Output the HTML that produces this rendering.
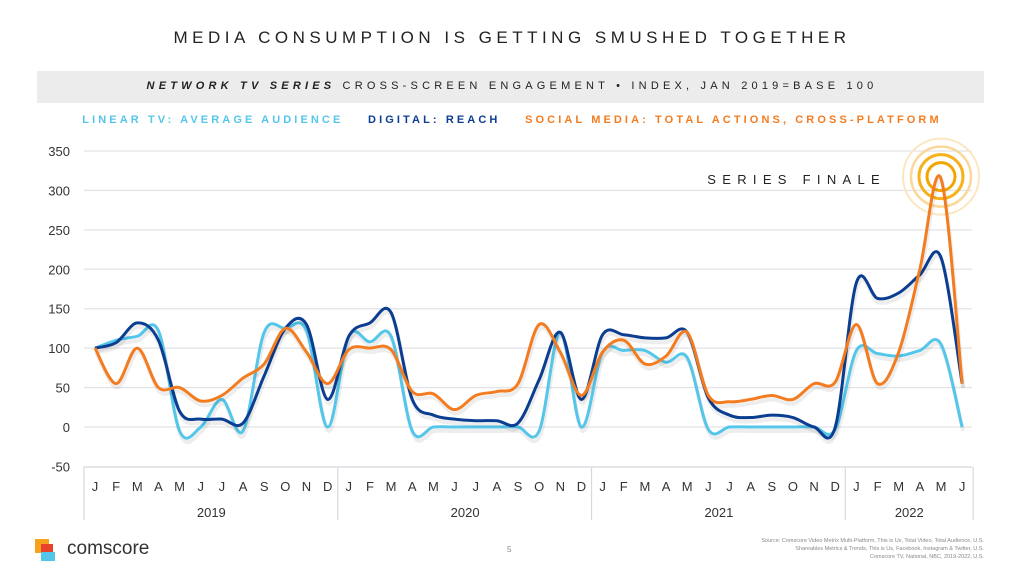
<!DOCTYPE html>
<html><head><meta charset="utf-8"><style>
body{margin:0;width:1024px;height:576px;background:#fff;font-family:"Liberation Sans",sans-serif;overflow:hidden;position:relative}
.t{position:absolute;white-space:nowrap}
</style></head><body>
<div class="t" style="left:0;width:1024px;top:28px;text-align:center;font-size:17px;letter-spacing:4.5px;color:#222">MEDIA CONSUMPTION IS GETTING SMUSHED TOGETHER</div>
<div style="position:absolute;left:37px;top:71px;width:947px;height:32px;background:#ececec"></div>
<div class="t" style="left:0;width:1024px;top:80px;text-align:center;font-size:11px;letter-spacing:4.2px;color:#222"><b><i>NETWORK TV SERIES</i></b> CROSS-SCREEN ENGAGEMENT • INDEX, JAN 2019=BASE 100</div>
<div class="t" style="left:0;width:1024px;top:114px;text-align:center;font-size:11px;font-weight:bold;letter-spacing:3.1px">
<span style="color:#54c6ea">LINEAR TV: AVERAGE AUDIENCE</span>&nbsp;&nbsp;&nbsp;
<span style="color:#0b3d91">DIGITAL: REACH</span>&nbsp;&nbsp;&nbsp;
<span style="color:#f47c20">SOCIAL MEDIA: TOTAL ACTIONS, CROSS-PLATFORM</span></div>
<svg id="ch" width="1024" height="576" style="position:absolute;left:0;top:0"></svg>
<div style="position:absolute;left:35px;top:539px;width:14px;height:14px;background:#f7a21b"></div>
<div style="position:absolute;left:41px;top:544px;width:12px;height:10px;background:#e8412c"></div>
<div style="position:absolute;left:41px;top:552px;width:14px;height:9px;background:#54c6ea"></div>
<div class="t" style="left:67px;top:538px;font-size:19px;color:#333">comscore</div>
<div class="t" style="left:507px;top:545px;font-size:8px;color:#888">5</div>
<div class="t" style="right:40px;top:537px;font-size:5.5px;line-height:8px;color:#888;text-align:right">Source: Comscore Video Metrix Multi-Platform, This is Us, Total Video, Total Audience, U.S.<br>Shareables Metrics &amp; Trends, This is Us, Facebook, Instagram &amp; Twitter, U.S.<br>Comscore TV, National, NBC, 2019-2022, U.S.</div>
<script>
const yTicks=[350,300,250,200,150,100,50,0,-50];
const months=["J","F","M","A","M","J","J","A","S","O","N","D"];
const years=["2019","2020","2021","2022"];
const linear=[100,110,115,122,-5,0,35,-5,120,125,122,0, 115,108,115,-5,0,0,0,0,0,-5,120,0, 95,97,97,82,88,-3,0,0,0,0,0,-3, 97,93,90,97,105,0];
const digital=[100,107,132,110,20,10,10,5,65,125,130,35, 115,132,145,35,15,10,8,8,5,60,120,35, 117,117,113,113,120,37,15,12,15,12,0,0, 183,163,170,193,215,55];
const social=[100,55,100,50,50,33,40,62,80,125,95,55, 98,100,98,45,42,22,40,45,55,130,95,40, 95,110,80,90,120,40,32,35,40,35,55,57, 130,55,95,200,315,55];
const NS="http://www.w3.org/2000/svg";
const svg=document.getElementById('ch');
const X0=95,DX=21.15,plotL=84,plotR=972;
const x=i=>X0+i*DX;
const y=v=>427-v*(276/350);
function mk(t,a){const e=document.createElementNS(NS,t);for(const k in a)e.setAttribute(k,a[k]);svg.appendChild(e);return e;}
yTicks.forEach(v=>{
 if(v>-50){const g=mk('line',{x1:plotL,x2:plotR,y1:y(v),y2:y(v),stroke:'#e3e3e8','stroke-width':1.3});
 
 }
 const t=mk('text',{x:70,y:y(v)+5,'text-anchor':'end','font-size':13,fill:'#333','font-family':'Liberation Sans'});
 t.textContent=v;
 
 
});
const ax=mk('line',{x1:plotL,x2:plotR,y1:467,y2:467,stroke:'#d8d8de','stroke-width':1.3});


const N=linear.length;
for(let i=0;i<N;i++){
 const t=mk('text',{x:x(i),y:491,'text-anchor':'middle','font-size':13,fill:'#333','font-family':'Liberation Sans'});
 t.textContent=months[i%12];
 
 
}
years.forEach((yr,k)=>{
 const s=k*12,e=Math.min(s+11,N-1);
 const lx=x(s)-DX/2-0.5,rx=x(e)+DX/2+0.5;
 const l=mk('line',{x1:lx,x2:lx,y1:467,y2:520,stroke:'#d8d8de','stroke-width':1.2});
 
 
 if(k==years.length-1){const r=mk('line',{x1:rx,x2:rx,y1:467,y2:520,stroke:'#d8d8de','stroke-width':1.2});
 
 }
 const t=mk('text',{x:(lx+rx)/2,y:517,'text-anchor':'middle','font-size':13,fill:'#333','font-family':'Liberation Sans'});
 t.textContent=yr;
 
 
});
const pi=social.indexOf(Math.max(...social));
const cx=x(pi),cy=y(social[pi])-2;
[[38,'#fbe6c0',2],[30,'#f9d89a',2.5],[22,'#f5b21a',3],[14,'#f0a500',3]].forEach(([r,c,w])=>{
 const ci=mk('circle',{cx:cx,cy:cy,r:r,fill:'none',stroke:c,'stroke-width':w});
 
 
});
const ft=mk('text',{x:886,y:184,'text-anchor':'end','font-size':13,fill:'#222','letter-spacing':'6.3','font-family':'Liberation Sans'});
ft.textContent='SERIES FINALE';


function path(d){
 const p=d.map((v,i)=>[x(i),y(v)]);
 let s=`M${p[0][0]},${p[0][1]}`;
 const k=1/6;
 for(let i=0;i<p.length-1;i++){
  const a=p[Math.max(0,i-1)],b=p[i],c=p[i+1],e=p[Math.min(p.length-1,i+2)];
  s+=` C${b[0]+(c[0]-a[0])*k},${b[1]+(c[1]-a[1])*k} ${c[0]-(e[0]-b[0])*k},${c[1]-(e[1]-b[1])*k} ${c[0]},${c[1]}`;
 }
 return s;
}
[[linear,'#54c6ea','series-linear-tv'],[digital,'#0b3d91','series-digital'],[social,'#f47c20','series-social']].forEach(([d,c,n])=>{
 const sh=mk('path',{d:path(d),fill:'none',stroke:'rgba(0,0,0,0.07)','stroke-width':4,transform:'translate(1,4)'});
 
 
 const p=mk('path',{d:path(d),fill:'none',stroke:c,'stroke-width':3,'stroke-linejoin':'round'});
 
 
});
</script>
</body></html>
